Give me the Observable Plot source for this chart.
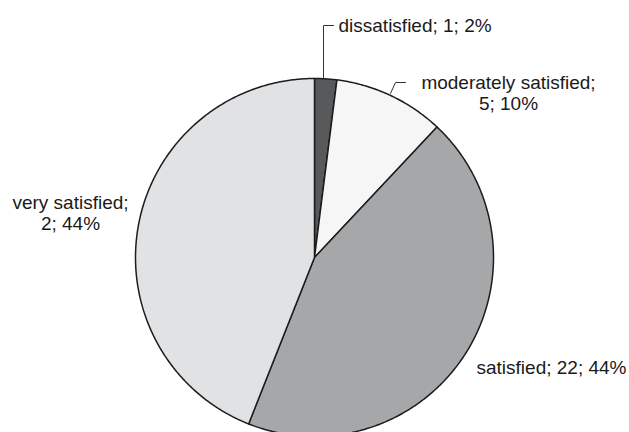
<!DOCTYPE html>
<html>
<head>
<meta charset="utf-8">
<script src="https://cdn.jsdelivr.net/npm/d3@7"></script>
<script src="https://cdn.jsdelivr.net/npm/@observablehq/plot@0.6"></script>
<style>
  html, body { margin: 0; padding: 0; background: #fff; }
  #chart svg { display: block; overflow: visible; }
</style>
</head>
<body>
<div id="chart"></div>
<script>
// ---- data ----
const categories = ["dissatisfied", "moderately satisfied", "satisfied", "very satisfied"];
const counts = [1, 5, 22, 22];
const countLabels = ["1", "5", "22", "2"];
const percentLabels = ["2%", "10%", "44%", "44%"];
const sliceColors = ["#58595b", "#f6f6f6", "#a6a7a9", "#e1e2e4"];

// ---- layout (pixels relative to pie centre, y up) ----
const R = 179;
const labelLayout = [
  {x: 24, y: 232, anchor: "start", twoLine: false},
  {x: 194, y: 164.5, anchor: "middle", twoLine: true},
  {x: 162, y: -110, anchor: "start", twoLine: false},
  {x: -244, y: 45, anchor: "middle", twoLine: true}
];
const leaderLayout = [
  {cat: "dissatisfied", pts: [[9, 179], [9, 232], [19, 232]]},
  {cat: "moderately satisfied", pts: [[76, 164], [81, 175], [91, 175]]}
];

// ---- build slice geometry from values ----
const total = d3.sum(counts);
let cum = 0;
const slicePts = [];
categories.forEach((cat, i) => {
  const a0 = cum / total * 2 * Math.PI;
  cum += counts[i];
  const a1 = cum / total * 2 * Math.PI;
  slicePts.push({cat, x: 0, y: 0});
  const n = Math.max(2, Math.ceil((a1 - a0) / (Math.PI / 360)));
  for (let k = 0; k <= n; k++) {
    const a = a0 + (a1 - a0) * k / n;
    slicePts.push({cat, x: R * Math.sin(a), y: R * Math.cos(a)});
  }
  slicePts.push({cat, x: 0, y: 0});
});

const labels = categories.map((cat, i) => {
  const L = labelLayout[i];
  const text = L.twoLine
    ? `${cat};\n${countLabels[i]}; ${percentLabels[i]}`
    : `${cat}; ${countLabels[i]}; ${percentLabels[i]}`;
  return {cat, text, x: L.x, y: L.y, anchor: L.anchor};
});

const leaders = leaderLayout.flatMap(d => d.pts.map(([x, y]) => ({cat: d.cat, x, y})));

const font = "'Liberation Sans', Arial, sans-serif";

const chart = Plot.plot({
  width: 629,
  height: 432,
  margin: 0,
  x: {domain: [-314, 315], axis: null},
  y: {domain: [-175, 257], axis: null},
  color: {domain: categories, range: sliceColors},
  style: {fontFamily: font, background: "#fff"},
  marks: [
    Plot.line(slicePts, {x: "x", y: "y", z: "cat", fill: "cat", stroke: "#1c1c1c", strokeWidth: 1.5, strokeLinejoin: "round", curve: "linear"}),
    Plot.line(leaders, {x: "x", y: "y", z: "cat", stroke: "#333", strokeWidth: 1}),
    Plot.text(labels.filter(d => d.anchor === "start"), {x: "x", y: "y", text: "text", textAnchor: "start", fontSize: 19, fill: "#1a1a1a", fontFamily: font}),
    Plot.text(labels.filter(d => d.anchor === "middle"), {x: "x", y: "y", text: "text", textAnchor: "middle", lineHeight: 1.1, fontSize: 19, fill: "#1a1a1a", fontFamily: font})
  ]
});
document.getElementById("chart").appendChild(chart);
</script>
</body>
</html>
